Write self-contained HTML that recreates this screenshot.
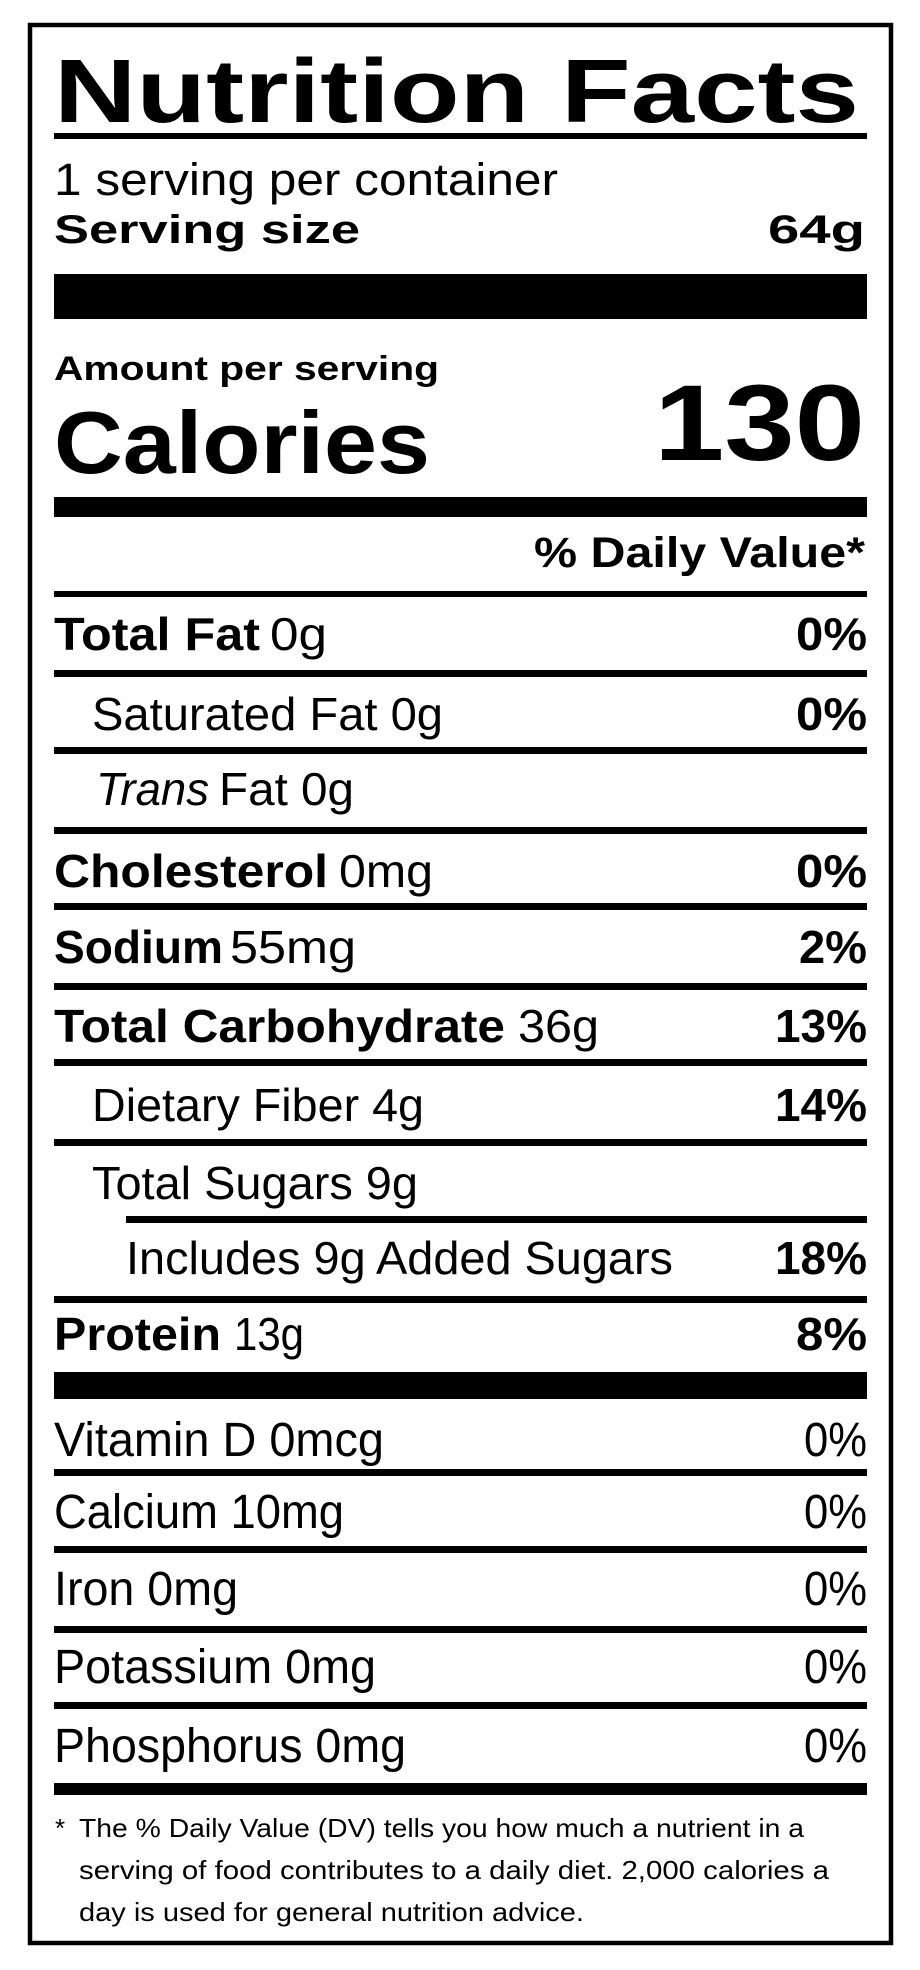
<!DOCTYPE html>
<html><head><meta charset="utf-8"><style>
html,body{margin:0;padding:0;background:#fff;}
svg{display:block;}
text{font-family:"Liberation Sans",Arial,sans-serif;fill:#000;}
.b{font-weight:bold;}
</style></head><body>
<svg width="920" height="1970" viewBox="0 0 920 1970" xmlns="http://www.w3.org/2000/svg">
<rect x="0" y="0" width="920" height="1970" fill="#fff"/>
<rect x="30" y="25" width="861" height="1918" fill="none" stroke="#000" stroke-width="4.5"/>

<text class="b" x="54" y="122" font-size="90" textLength="805" lengthAdjust="spacingAndGlyphs">Nutrition Facts</text>
<rect x="54" y="133" width="813" height="6"/>

<text x="54" y="195" font-size="45" textLength="504" lengthAdjust="spacingAndGlyphs">1 serving per container</text>
<text class="b" x="54" y="243" font-size="40" textLength="306" lengthAdjust="spacingAndGlyphs">Serving size</text>
<text class="b" x="768" y="243" font-size="40" textLength="97" lengthAdjust="spacingAndGlyphs">64g</text>
<rect x="54" y="274" width="813" height="45"/>

<text class="b" x="54" y="380" font-size="34" textLength="385" lengthAdjust="spacingAndGlyphs">Amount per serving</text>
<text class="b" x="54" y="473" font-size="88" textLength="376" lengthAdjust="spacingAndGlyphs">Calories</text>
<text class="b" x="654" y="460" font-size="108" textLength="211" lengthAdjust="spacingAndGlyphs">130</text>
<rect x="54" y="497" width="813" height="20"/>

<text class="b" x="534" y="567" font-size="43" textLength="331" lengthAdjust="spacingAndGlyphs">% Daily Value*</text>
<rect x="54" y="591" width="813" height="6"/>

<text class="b" x="54" y="650" font-size="46" textLength="206" lengthAdjust="spacingAndGlyphs">Total Fat</text>
<text x="270" y="650" font-size="46" textLength="57" lengthAdjust="spacingAndGlyphs">0g</text>
<text class="b" x="796" y="650" font-size="46" textLength="71" lengthAdjust="spacingAndGlyphs">0%</text>
<rect x="54" y="670" width="813" height="7"/>

<text x="92" y="730" font-size="46" textLength="351" lengthAdjust="spacingAndGlyphs">Saturated Fat 0g</text>
<text class="b" x="796" y="730" font-size="46" textLength="71" lengthAdjust="spacingAndGlyphs">0%</text>
<rect x="54" y="747" width="813" height="7"/>

<text x="96" y="805" font-size="46" font-style="italic" textLength="113" lengthAdjust="spacingAndGlyphs">Trans</text>
<text x="219" y="805" font-size="46" textLength="135" lengthAdjust="spacingAndGlyphs">Fat 0g</text>
<rect x="54" y="827" width="813" height="7"/>

<text class="b" x="54" y="887" font-size="46" textLength="274" lengthAdjust="spacingAndGlyphs">Cholesterol</text>
<text x="339" y="887" font-size="46" textLength="94" lengthAdjust="spacingAndGlyphs">0mg</text>
<text class="b" x="796" y="887" font-size="46" textLength="71" lengthAdjust="spacingAndGlyphs">0%</text>
<rect x="54" y="903" width="813" height="7"/>

<text class="b" x="54" y="963" font-size="46" textLength="169" lengthAdjust="spacingAndGlyphs">Sodium</text>
<text x="230" y="963" font-size="46" textLength="126" lengthAdjust="spacingAndGlyphs">55mg</text>
<text class="b" x="799" y="963" font-size="46" textLength="68" lengthAdjust="spacingAndGlyphs">2%</text>
<rect x="54" y="983" width="813" height="7"/>

<text class="b" x="54" y="1042" font-size="46" textLength="451" lengthAdjust="spacingAndGlyphs">Total Carbohydrate</text>
<text x="518" y="1042" font-size="46" textLength="81" lengthAdjust="spacingAndGlyphs">36g</text>
<text class="b" x="775" y="1042" font-size="46" textLength="92" lengthAdjust="spacingAndGlyphs">13%</text>
<rect x="54" y="1059" width="813" height="7"/>

<text x="92" y="1121" font-size="46" textLength="332" lengthAdjust="spacingAndGlyphs">Dietary Fiber 4g</text>
<text class="b" x="775" y="1121" font-size="46" textLength="92" lengthAdjust="spacingAndGlyphs">14%</text>
<rect x="54" y="1139" width="813" height="7"/>

<text x="92" y="1199" font-size="46" textLength="326" lengthAdjust="spacingAndGlyphs">Total Sugars 9g</text>
<rect x="126" y="1216" width="741" height="7"/>

<text x="126" y="1274" font-size="46" textLength="547" lengthAdjust="spacingAndGlyphs">Includes 9g Added Sugars</text>
<text class="b" x="775" y="1274" font-size="46" textLength="92" lengthAdjust="spacingAndGlyphs">18%</text>
<rect x="54" y="1296" width="813" height="7"/>

<text class="b" x="54" y="1350" font-size="46" textLength="167" lengthAdjust="spacingAndGlyphs">Protein</text>
<text x="234" y="1350" font-size="46" textLength="70" lengthAdjust="spacingAndGlyphs">13g</text>
<text class="b" x="796" y="1350" font-size="46" textLength="71" lengthAdjust="spacingAndGlyphs">8%</text>
<rect x="54" y="1372" width="813" height="27"/>

<text x="54" y="1456" font-size="48" textLength="330" lengthAdjust="spacingAndGlyphs">Vitamin D 0mcg</text>
<text x="804" y="1456" font-size="48" textLength="63" lengthAdjust="spacingAndGlyphs">0%</text>
<rect x="54" y="1469" width="813" height="7"/>

<text x="54" y="1528" font-size="48" textLength="290" lengthAdjust="spacingAndGlyphs">Calcium 10mg</text>
<text x="804" y="1528" font-size="48" textLength="63" lengthAdjust="spacingAndGlyphs">0%</text>
<rect x="54" y="1546" width="813" height="7"/>

<text x="54" y="1605" font-size="48" textLength="184" lengthAdjust="spacingAndGlyphs">Iron 0mg</text>
<text x="804" y="1605" font-size="48" textLength="63" lengthAdjust="spacingAndGlyphs">0%</text>
<rect x="54" y="1626" width="813" height="7"/>

<text x="54" y="1683" font-size="48" textLength="322" lengthAdjust="spacingAndGlyphs">Potassium 0mg</text>
<text x="804" y="1683" font-size="48" textLength="63" lengthAdjust="spacingAndGlyphs">0%</text>
<rect x="54" y="1702" width="813" height="7"/>

<text x="54" y="1762" font-size="48" textLength="352" lengthAdjust="spacingAndGlyphs">Phosphorus 0mg</text>
<text x="804" y="1762" font-size="48" textLength="63" lengthAdjust="spacingAndGlyphs">0%</text>
<rect x="54" y="1783" width="813" height="12"/>

<text x="55" y="1837" font-size="26">*</text>
<text x="79" y="1837" font-size="26" textLength="725" lengthAdjust="spacingAndGlyphs">The % Daily Value (DV) tells you how much a nutrient in a</text>
<text x="79" y="1879" font-size="26" textLength="750" lengthAdjust="spacingAndGlyphs">serving of food contributes to a daily diet. 2,000 calories a</text>
<text x="79" y="1921" font-size="26" textLength="505" lengthAdjust="spacingAndGlyphs">day is used for general nutrition advice.</text>
</svg>
</body></html>
